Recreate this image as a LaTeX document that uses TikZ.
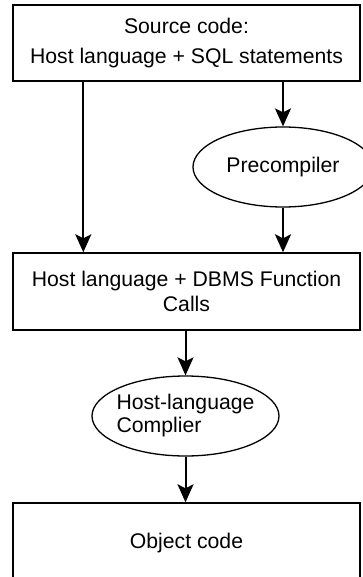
\documentclass[tikz,border=0pt]{standalone}
\usepackage{fontspec}
\setmainfont{Liberation Sans}
\usetikzlibrary{shapes.geometric,arrows.meta}

\tikzset{
    box/.style = {draw, line width=1.4pt, fill=white, minimum width=347pt, inner sep=0pt, align=center},
    oval/.style = {draw, ellipse, line width=1.3pt, fill=white, inner sep=0pt},
    arr/.style = {line width=2pt, -{Stealth[length=18pt,width=16pt,inset=4pt]}}
}

\begin{document}
\begin{tikzpicture}[x=1pt, y=-1pt, font=\fontsize{21.2}{25}\selectfont]
    \useasboundingbox (0,0) rectangle (363,577);

    \node[box, minimum height=76pt] (src) at (186.5,43) {Source code:\\[5pt]Host language + SQL statements};
    \node[oval, minimum width=180pt, minimum height=80pt] (pre) at (283,167) {Precompiler};
    \node[box, minimum height=77pt] (calls) at (186.5,291.5) {Host language + DBMS Function\\Calls};
    \node[oval, minimum width=187pt, minimum height=80pt, inner xsep=-3pt, align=left,
          font=\fontsize{21.2}{23}\selectfont] (hlc) at (185.5,416) {Host-language\\Complier};
    \node[box, minimum height=80pt] (obj) at (186.5,543) {Object code};

    % straight path, bypassing the precompiler
    \draw[arr] ([xshift=71pt]src.south west) -- ([xshift=71pt]calls.north west);

    \draw[arr] (src.south -| pre.north) -- (pre.north);
    \draw[arr] (pre.south) -- (calls.north -| pre.south);

    \draw[arr] (calls.south -| hlc.north) -- (hlc.north);
    \draw[arr] (hlc.south) -- (obj.north -| hlc.south);
\end{tikzpicture}
\end{document}
